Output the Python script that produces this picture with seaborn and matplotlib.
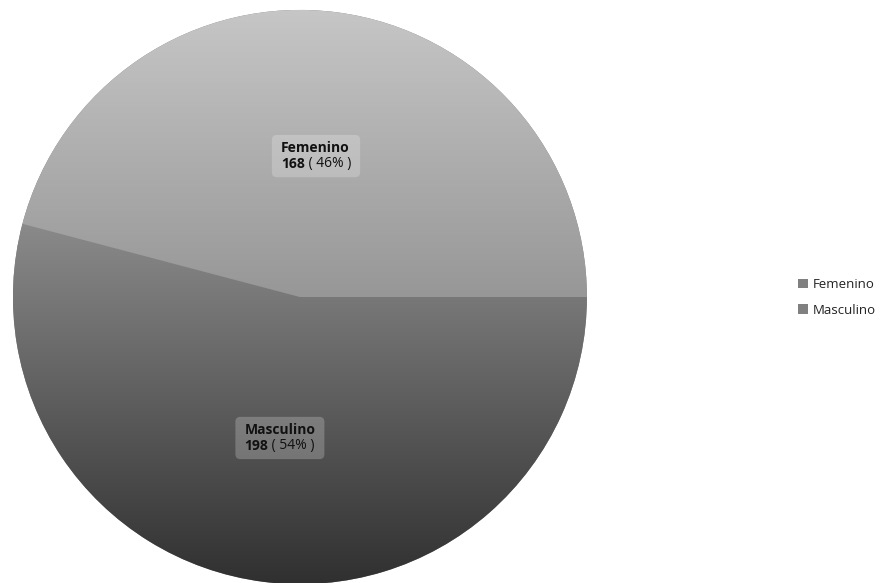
import numpy as np
import matplotlib
matplotlib.use("Agg")
import matplotlib.pyplot as plt
import seaborn as sns
from matplotlib.colors import LinearSegmentedColormap
from matplotlib.patches import FancyBboxPatch
from matplotlib.transforms import Bbox

sns.set_theme(style="white")
plt.rcParams['font.family'] = ['Open Sans', 'DejaVu Sans']

# data
categories = ["Femenino", "Masculino"]
counts = [168, 198]
# gradient (top colour, bottom colour) for each slice
grad_colors = [("#c6c6c6", "#979797"), ("#8a8a8a", "#303030")]
legend_color = "#808080"

fig = plt.figure(figsize=(8.94, 5.83), dpi=100)
ax = fig.add_axes([0.0145, -0.002, 0.642, 0.985])

wedges, _ = ax.pie(counts, colors=[legend_color] * len(counts), startangle=0,
                   counterclock=True, wedgeprops=dict(linewidth=0))
ax.set_xlim(-1, 1)
ax.set_ylim(-1, 1)
ax.set_aspect("equal")
ax.axis("off")

total = sum(counts)
labels = []
for w, (top, bot), name, n in zip(wedges, grad_colors, categories, counts):
    # vertical gradient clipped to the wedge, over its bounding box
    ang = np.radians(np.linspace(w.theta1, w.theta2, 200))
    ys = np.concatenate([np.sin(ang), [0]])
    y0, y1 = ys.min(), ys.max()
    cmap = LinearSegmentedColormap.from_list("g", [bot, top])
    grad = np.linspace(0, 1, 256).reshape(-1, 1)
    im = ax.imshow(grad, cmap=cmap, extent=(-1, 1, y0, y1), origin="lower",
                   aspect="auto", interpolation="bicubic", zorder=2)
    im.set_clip_path(w)

    mid = np.radians((w.theta1 + w.theta2) / 2)
    x, y = 0.495 * np.cos(mid), 0.495 * np.sin(mid)
    pct = round(100 * n / total)
    t1 = ax.text(x - 0.13, y + 0.004, name, ha="left", va="bottom",
                 fontsize=10, fontweight="bold", color="#111111", zorder=4)
    t2 = ax.text(x - 0.13, y - 0.004, str(n), ha="left", va="top",
                 fontsize=10, fontweight="bold", color="#111111", zorder=4)
    t3 = ax.annotate(f" ( {pct}% )", xy=(1, 0), xycoords=t2, ha="left",
                     va="bottom", fontsize=10, color="#111111", zorder=4)
    labels.append((t1, t2, t3))

# rounded, see-through boxes behind the labels
fig.canvas.draw()
r = fig.canvas.get_renderer()
for t1, t2, t3 in labels:
    bb = Bbox.union([t.get_window_extent(r) for t in (t1, t2, t3)])
    px, py = 9, 6
    box = FancyBboxPatch((bb.x0 - px, bb.y0 - py),
                         bb.width + 2 * px, bb.height + 2 * py,
                         boxstyle="round,pad=0,rounding_size=5",
                         transform=None, fc="white", ec="none",
                         alpha=0.22, zorder=3)
    ax.add_artist(box)

fig.legend(wedges, categories, loc="center left",
           bbox_to_anchor=(0.885, 0.49), frameon=False, fontsize=9.5,
           handlelength=0.75, handleheight=0.75, handletextpad=0.35,
           labelspacing=0.95, labelcolor="#222222", borderpad=0)

fig.savefig("out.png", dpi=100)
